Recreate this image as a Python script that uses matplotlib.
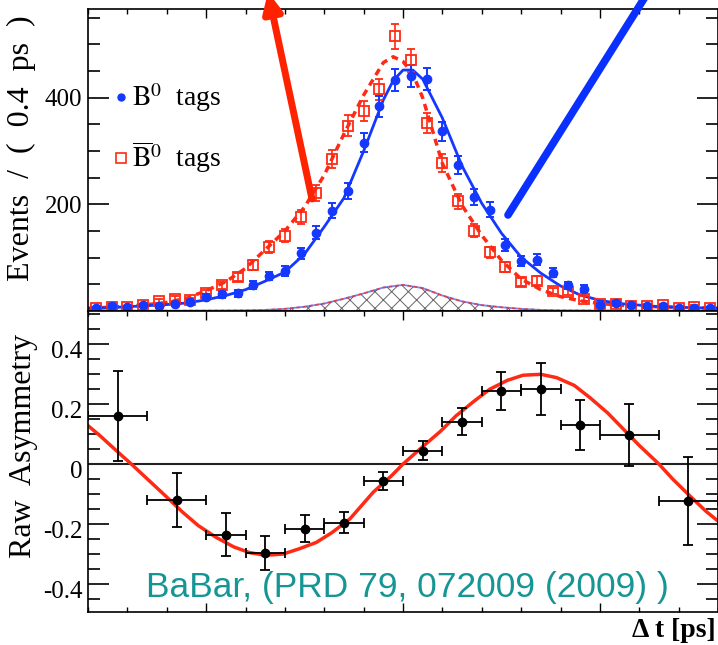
import matplotlib
matplotlib.use("Agg")
import matplotlib.pyplot as plt
from matplotlib.lines import Line2D
from matplotlib.ticker import MultipleLocator, FixedLocator, FixedFormatter
import matplotlib.transforms as mtransforms

plt.rcParams['font.family'] = ['Liberation Serif', 'DejaVu Serif']
plt.rcParams['mathtext.fontset'] = 'stix'
plt.rcParams['axes.unicode_minus'] = False
plt.rcParams['hatch.linewidth'] = 0.7

BLUE = '#1438ff'
RED = '#ff2a14'
TEAL = '#169595'

# ---- top panel: events per 0.4 ps ----
dt_bins = [-7.8, -7.4, -7.0, -6.6, -6.2, -5.8, -5.4, -5.0, -4.6, -4.2,
           -3.8, -3.4, -3.0, -2.6, -2.2, -1.8, -1.4, -1.0, -0.6, -0.2,
           0.2, 0.6, 1.0, 1.4, 1.8, 2.2, 2.6, 3.0, 3.4, 3.8,
           4.2, 4.6, 5.0, 5.4, 5.8, 6.2, 6.6, 7.0, 7.4, 7.8]
b0_counts = [5, 10, 7, 11, 9, 13, 17, 26, 31, 33,
             49, 66, 75, 108, 147, 188, 226, 316, 384, 433,
             441, 435, 337, 274, 214, 190, 124, 94, 96, 72,
             48, 42, 11, 15, 11, 9, 9, 5, 6, 5]
b0_err = [2, 3, 3, 3, 3, 4, 4, 5, 6, 6,
          7, 8, 9, 10, 12, 14, 15, 18, 20, 21,
          21, 21, 18, 17, 15, 14, 11, 10, 10, 8,
          7, 6, 3, 4, 3, 3, 3, 2, 2, 2]
b0bar_counts = [6, 7, 7, 11, 19, 23, 20, 33, 48, 64,
                86, 120, 141, 177, 222, 285, 348, 375, 416, 515,
                470, 353, 278, 206, 151, 110, 82, 54, 57, 38,
                36, 23, 13, 14, 10, 10, 11, 6, 8, 6]
b0bar_err = [2, 3, 3, 3, 4, 5, 4, 6, 7, 8,
             9, 11, 12, 13, 15, 17, 19, 19, 20, 23,
             22, 19, 17, 14, 12, 10, 9, 7, 8, 6,
             6, 5, 4, 4, 3, 3, 3, 2, 3, 2]

# fit curves
fit_t = [-8.0, -7.5, -7.0, -6.5, -6.0, -5.5, -5.0, -4.5, -4.0, -3.5,
         -3.0, -2.5, -2.0, -1.5, -1.0, -0.5, -0.25, 0.0, 0.25, 0.5,
         1.0, 1.5, 2.0, 2.5, 3.0, 3.5, 4.0, 4.5, 5.0, 5.5,
         6.0, 6.5, 7.0, 7.5, 8.0]
b0_fit = [5, 6, 8, 10, 12, 15, 21, 29, 40, 56,
          73, 107, 158, 212, 300, 396, 432, 452, 452, 435,
          362, 272, 202, 146, 101, 71, 47, 30, 20, 14,
          11, 8, 7, 6, 5]
b0bar_fit = [5, 7, 9, 12, 16, 24, 38, 55, 80, 115,
             150, 195, 255, 332, 405, 466, 477, 468, 445, 400,
             277, 198, 142, 95, 60, 40, 27, 19, 14, 11,
             9, 8, 7, 6, 5]

bkg_t = [-8.0, -6.0, -5.0, -4.0, -3.5, -3.0, -2.5, -2.0, -1.5, -1.0,
         -0.5, 0.0, 0.5, 1.0, 1.5, 2.0, 2.5, 3.0, 3.5, 4.0,
         5.0, 6.0, 8.0]
bkg_v = [0.5, 0.6, 0.8, 1.2, 2, 4, 8, 14, 23, 33,
         44, 49, 43, 29, 18, 11, 7, 4, 2, 1.2,
         0.8, 0.6, 0.5]

# ---- bottom panel: raw asymmetry ----
asym_t = [-7.25, -5.75, -4.5, -3.5, -2.5, -1.5, -0.5, 0.5, 1.5, 2.5, 3.5, 4.5, 5.75, 7.25]
asym_terr = [0.75, 0.75, 0.5, 0.5, 0.5, 0.5, 0.5, 0.5, 0.5, 0.5, 0.5, 0.5, 0.75, 0.75]
asym_val = [0.161, -0.121, -0.235, -0.297, -0.216, -0.196, -0.057,
            0.045, 0.141, 0.243, 0.251, 0.131, 0.097, -0.123]
asym_err = [0.15, 0.09, 0.073, 0.057, 0.045, 0.035, 0.031,
            0.032, 0.045, 0.064, 0.087, 0.084, 0.104, 0.148]

asym_fit_t = [-8.0, -7.7, -7.3, -6.9, -6.45, -6.0, -5.6, -5.2, -4.75, -4.3,
              -3.9, -3.5, -3.05, -2.65, -2.2, -1.8, -1.35, -0.75, -0.3, 0.0,
              0.5, 0.95, 1.35, 1.8, 2.2, 2.65, 3.05, 3.5, 3.9, 4.35,
              4.75, 5.2, 5.6, 6.0, 6.5, 6.85, 7.3, 7.7, 8.0]
asym_fit_v = [0.128, 0.095, 0.047, 0.0, -0.055, -0.11, -0.16, -0.205, -0.244, -0.276,
              -0.295, -0.304, -0.300, -0.283, -0.261, -0.228, -0.183, -0.093, -0.040, 0.0,
              0.058, 0.109, 0.161, 0.209, 0.249, 0.279, 0.296, 0.299, 0.288, 0.262,
              0.221, 0.170, 0.116, 0.062, 0.0, -0.05, -0.108, -0.158, -0.19]

W, H = 718, 645
fig = plt.figure(figsize=(W / 100, H / 100), dpi=100)
ax1 = fig.add_axes([88 / W, 1 - 311 / H, 630 / W, 301.7 / H])
ax2 = fig.add_axes([88 / W, 1 - 612 / H, 630 / W, 301 / H])

# top panel
ax1.fill_between(bkg_t, 0, bkg_v, facecolor='none', edgecolor='#666666', hatch='xx', lw=0)
ax1.plot(bkg_t, bkg_v, color=BLUE, lw=1.3, alpha=0.6)
ax1.plot(bkg_t, bkg_v, color=RED, lw=1.3, ls=(0, (2, 1.5)), alpha=0.7)
ax1.plot(fit_t, b0bar_fit, color=RED, lw=2.5, ls=(0, (2, 1.5)))
ax1.plot(fit_t, b0_fit, color=BLUE, lw=2)
ax1.errorbar(dt_bins, b0bar_counts, yerr=b0bar_err, fmt='s', mfc='none', mec=RED,
             color=RED, ms=7, mew=1.3, capsize=3, elinewidth=1.2, capthick=1.2)
ax1.errorbar(dt_bins, b0_counts, yerr=b0_err, fmt='o', color=BLUE, ms=6,
             capsize=3, elinewidth=1.4, capthick=1.4)

ax1.set_xlim(-8, 8)
ax1.set_ylim(0, 566)
ax1.xaxis.set_major_locator(MultipleLocator(5))
ax1.xaxis.set_minor_locator(MultipleLocator(1))
ax1.yaxis.set_major_locator(FixedLocator([0, 200, 400]))
ax1.yaxis.set_major_formatter(FixedFormatter(['', '200', '400']))
ax1.yaxis.set_minor_locator(MultipleLocator(50))
ax1.tick_params(which='both', direction='in', top=True, right=True, bottom=False,
                labelbottom=False)
ax1.set_ylabel('Events  /  (  0.4  ps  )', fontsize=23)
ax1.yaxis.set_label_coords(-0.083, 0.54)

handles = [Line2D([], [], ls='none', marker='o', color=BLUE, ms=5),
           Line2D([], [], ls='none', marker='s', mfc='none', mec=RED, mew=1.2, ms=7)]
ax1.legend(handles, [r'$\mathrm{B}^{0}$  tags', r'$\overline{\mathrm{B}}^{0}$  tags'],
           loc='center left', bbox_to_anchor=(0.039, 0.605), frameon=False, fontsize=20,
           handlelength=0.6, handletextpad=0.1, labelspacing=0.9, borderpad=0,
           borderaxespad=0)

# bottom panel
ax2.axhline(0, color='#222222', lw=1.5)
ax2.plot(asym_fit_t, asym_fit_v, color=RED, lw=2.5)
ax2.errorbar(asym_t, asym_val, xerr=asym_terr, yerr=asym_err, fmt='o', color='black',
             ms=6, capsize=3.5, elinewidth=1.3, capthick=1.3)
ax2.set_xlim(-8, 8)
ax2.set_ylim(-0.493, 0.51)
ax2.xaxis.set_major_locator(MultipleLocator(5))
ax2.xaxis.set_minor_locator(MultipleLocator(1))
ax2.yaxis.set_major_locator(FixedLocator([-0.4, -0.2, 0, 0.2, 0.4]))
ax2.yaxis.set_major_formatter(FixedFormatter(['-0.4', '-0.2', '0', '0.2', '0.4']))
ax2.yaxis.set_minor_locator(MultipleLocator(0.05))
ax2.tick_params(which='both', direction='in', top=True, right=True, labelbottom=False)
ax2.set_ylabel('Raw  Asymmetry', fontsize=23)
ax2.yaxis.set_label_coords(-0.08, 0.55)

for ax in (ax1, ax2):
    ax.tick_params(axis='y', which='major', length=15, width=1.2, labelsize=18, pad=4)
    ax.tick_params(axis='y', which='minor', length=8.5, width=1.2)
    ax.tick_params(axis='x', which='major', length=6.5, width=1.0)
    ax.tick_params(axis='x', which='minor', length=3.5, width=1.0)
    for s in ax.spines.values():
        s.set_linewidth(1.2)

# lower panel tick labels sit a little below their ticks
shift = mtransforms.ScaledTranslation(0, -5 / 100, fig.dpi_scale_trans)
for tick in ax2.yaxis.get_major_ticks():
    tick.label1.set_transform(tick.label1.get_transform() + shift)

fig.text(146 / W, 1 - 597 / H, 'BaBar, (PRD 79, 072009 (2009) )', fontsize=25.5,
         color=TEAL, family=['Liberation Sans', 'DejaVu Sans'], va='baseline')
fig.text(716 / W, 2 / H, 'Δ t [ps]', ha='right', va='bottom', fontsize=20,
         fontweight='bold')

# arrows pointing out of the figure
ax1.annotate('', xy=(268, H + 8), xytext=(312, H - 199), xycoords='figure pixels',
             textcoords='figure pixels', annotation_clip=False,
             arrowprops=dict(arrowstyle='-|>,head_length=1.15,head_width=0.55',
                             mutation_scale=10, lw=5, color='#ff2200',
                             shrinkA=0, shrinkB=0))
ax1.annotate('', xy=(662, H + 30), xytext=(508, H - 215), xycoords='figure pixels',
             textcoords='figure pixels', annotation_clip=False,
             arrowprops=dict(arrowstyle='-', lw=5.5, color='#0a30ff',
                             shrinkA=0, shrinkB=0))

fig.savefig('out.png', dpi=100)
